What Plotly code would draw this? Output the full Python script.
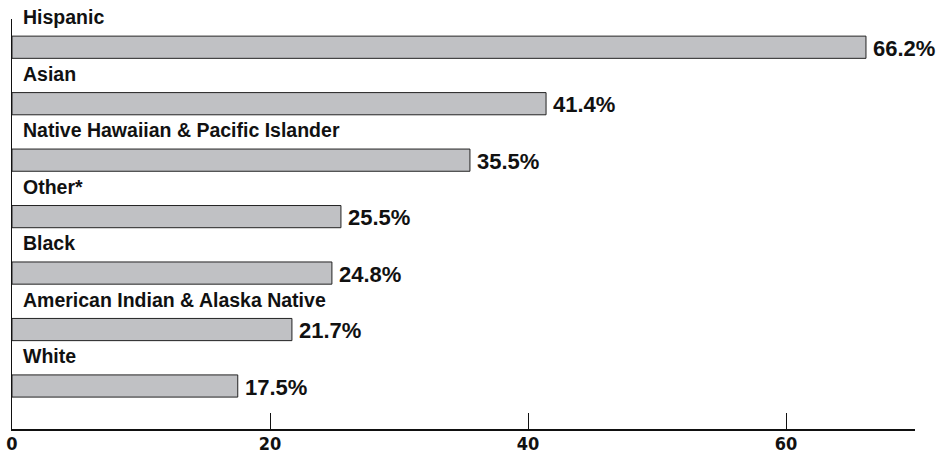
import plotly.graph_objects as go

categories = ["Hispanic", "Asian", "Native Hawaiian & Pacific Islander", "Other*",
              "Black", "American Indian & Alaska Native", "White"]
values = [66.2, 41.4, 35.5, 25.5, 24.8, 21.7, 17.5]
tick_vals = [0, 20, 40, 60]

fig = go.Figure()
fig.add_trace(go.Bar(
    x=values, y=categories, orientation="h",
    marker=dict(color="#c0c1c4", line=dict(color="#222222", width=1)),
    hoverinfo="skip",
))

for c, v in zip(categories, values):
    fig.add_annotation(x=0, y=c, text=f"<b>{c}</b>", xanchor="left", yanchor="middle",
                       xshift=9, yshift=30, showarrow=False,
                       font=dict(family="Liberation Sans, Arial, sans-serif", size=19.5, color="#111"))
    fig.add_annotation(x=v, y=c, text=f"<b>{v:.1f}%</b>", xanchor="left", yanchor="middle",
                       xshift=5, yshift=-1, showarrow=False,
                       font=dict(family="Liberation Sans, Arial, sans-serif", size=22, color="#111"))

fig.update_layout(
    width=942, height=456,
    margin=dict(l=12, r=27, t=19, b=27, autoexpand=False),
    plot_bgcolor="white", paper_bgcolor="white",
    bargap=0.607, showlegend=False,
    xaxis=dict(range=[0, 70], tickvals=tick_vals, ticks="inside", ticklen=16,
               tickcolor="#111", tickwidth=1, showgrid=False, zeroline=False,
               showline=True, linecolor="#111", linewidth=2, automargin=False,
               ticklabelstandoff=-3,
               tickfont=dict(family="DejaVu Sans Condensed, Liberation Sans Narrow, sans-serif",
                             size=18, color="#111", weight="bold")),
    yaxis=dict(autorange="reversed", showticklabels=False, ticks="", showgrid=False,
               zeroline=False, showline=True, linecolor="#111", linewidth=1, automargin=False),
)

fig.write_html("out.html", config={"displayModeBar": False},
               post_script="document.body.style.margin='0';document.documentElement.style.margin='0';")
